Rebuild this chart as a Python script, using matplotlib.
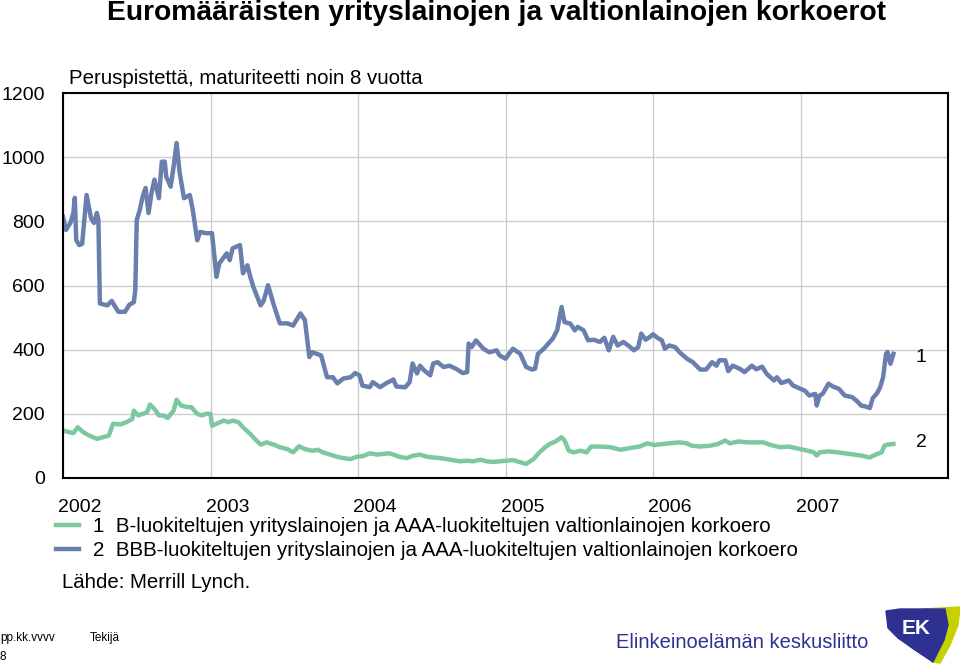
import numpy as np
import matplotlib
matplotlib.use("Agg")
import matplotlib.pyplot as plt
from matplotlib.transforms import ScaledTranslation
from matplotlib.patches import Polygon

plt.rcParams['font.family'] = ['Liberation Sans', 'DejaVu Sans']

# Sarja 2 (sininen), peruspisteitä
blue_t = [2002.00, 2002.02, 2002.05, 2002.07, 2002.08, 2002.09, 2002.11, 2002.13, 2002.14, 2002.16,
          2002.19, 2002.21, 2002.23, 2002.24, 2002.25, 2002.30, 2002.33, 2002.375, 2002.42, 2002.45,
          2002.48, 2002.49, 2002.50, 2002.52, 2002.54, 2002.56, 2002.58, 2002.60, 2002.62, 2002.65,
          2002.67, 2002.69, 2002.70, 2002.73, 2002.75, 2002.77, 2002.79, 2002.82, 2002.86, 2002.88,
          2002.91, 2002.93, 2002.97, 2003.01, 2003.02, 2003.04, 2003.06, 2003.11, 2003.13, 2003.15,
          2003.20, 2003.22, 2003.25, 2003.27, 2003.29, 2003.34, 2003.36, 2003.39, 2003.43, 2003.47,
          2003.52, 2003.56, 2003.61, 2003.64, 2003.67, 2003.69, 2003.75, 2003.79, 2003.83, 2003.86,
          2003.90, 2003.95, 2003.98, 2004.01, 2004.03, 2004.08, 2004.10, 2004.15, 2004.19, 2004.24,
          2004.26, 2004.32, 2004.35, 2004.37, 2004.40, 2004.42, 2004.45, 2004.49, 2004.51, 2004.54,
          2004.58, 2004.62, 2004.67, 2004.71, 2004.74, 2004.75, 2004.77, 2004.80, 2004.85, 2004.89,
          2004.94, 2004.96, 2005.00, 2005.05, 2005.10, 2005.14, 2005.18, 2005.20, 2005.22, 2005.26,
          2005.29, 2005.32, 2005.35, 2005.38, 2005.40, 2005.44, 2005.47, 2005.49, 2005.53, 2005.56,
          2005.60, 2005.64, 2005.67, 2005.70, 2005.73, 2005.76, 2005.80, 2005.84, 2005.87, 2005.90,
          2005.92, 2005.95, 2005.98, 2006.00, 2006.03, 2006.06, 2006.08, 2006.11, 2006.15, 2006.18,
          2006.23, 2006.27, 2006.32, 2006.36, 2006.40, 2006.43, 2006.45, 2006.49, 2006.51, 2006.54,
          2006.59, 2006.62, 2006.67, 2006.70, 2006.74, 2006.77, 2006.82, 2006.84, 2006.87, 2006.92,
          2006.95, 2007.00, 2007.03, 2007.06, 2007.10, 2007.11, 2007.13, 2007.15, 2007.19, 2007.22,
          2007.26, 2007.30, 2007.35, 2007.38, 2007.41, 2007.44, 2007.47, 2007.49, 2007.52, 2007.54,
          2007.56, 2007.58, 2007.59, 2007.61, 2007.63]
blue_v = [814, 773, 795, 826, 873, 741, 726, 730, 782, 882,
          810, 795, 826, 805, 544, 538, 552, 518, 518, 540,
          548, 585, 804, 835, 877, 904, 826, 888, 930, 872,
          986, 986, 939, 908, 971, 1044, 955, 872, 882, 835,
          741, 767, 763, 763, 720, 627, 669, 700, 679, 716,
          726, 638, 663, 627, 596, 538, 552, 601, 538, 482,
          482, 475, 513, 492, 377, 392, 382, 314, 314, 295,
          310, 314, 327, 320, 288, 283, 299, 283, 295, 307,
          285, 283, 299, 357, 326, 350, 335, 320, 357, 361,
          346, 350, 339, 327, 330, 419, 408, 429, 403, 392,
          398, 382, 372, 403, 387, 346, 338, 340, 387, 403,
          419, 434, 460, 533, 486, 481, 460, 471, 460, 429,
          431, 424, 437, 398, 440, 413, 424, 410, 398, 408,
          450, 431, 440, 448, 437, 429, 403, 413, 408, 392,
          372, 361, 338, 338, 361, 350, 367, 367, 333, 350,
          340, 330, 350, 339, 347, 325, 304, 314, 296, 304,
          288, 278, 272, 257, 262, 226, 257, 262, 294, 285,
          278, 257, 252, 241, 226, 223, 218, 249, 265, 283,
          314, 387, 393, 356, 387]

# Sarja 1 (vihreä), peruspisteitä
green_t = [2002.00, 2002.05, 2002.07, 2002.10, 2002.14, 2002.18, 2002.23, 2002.27, 2002.31, 2002.34,
           2002.39, 2002.43, 2002.47, 2002.48, 2002.51, 2002.54, 2002.57, 2002.59, 2002.62, 2002.65,
           2002.68, 2002.71, 2002.75, 2002.77, 2002.80, 2002.84, 2002.87, 2002.91, 2002.94, 2002.97,
           2003.00, 2003.01, 2003.04, 2003.09, 2003.12, 2003.15, 2003.19, 2003.22, 2003.27, 2003.30,
           2003.34, 2003.38, 2003.43, 2003.47, 2003.52, 2003.56, 2003.60, 2003.64, 2003.69, 2003.73,
           2003.76, 2003.81, 2003.86, 2003.90, 2003.95, 2003.99, 2004.04, 2004.08, 2004.13, 2004.17,
           2004.21, 2004.24, 2004.28, 2004.33, 2004.37, 2004.42, 2004.47, 2004.51, 2004.56, 2004.60,
           2004.65, 2004.69, 2004.74, 2004.78, 2004.83, 2004.87, 2004.92, 2004.96, 2005.01, 2005.05,
           2005.10, 2005.14, 2005.19, 2005.23, 2005.27, 2005.30, 2005.34, 2005.38, 2005.40, 2005.43,
           2005.46, 2005.51, 2005.55, 2005.58, 2005.64, 2005.71, 2005.78, 2005.84, 2005.91, 2005.96,
           2006.01, 2006.07, 2006.13, 2006.18, 2006.23, 2006.26, 2006.32, 2006.39, 2006.44, 2006.49,
           2006.52, 2006.58, 2006.64, 2006.69, 2006.75, 2006.79, 2006.86, 2006.92, 2006.97, 2007.03,
           2007.09, 2007.11, 2007.13, 2007.19, 2007.25, 2007.30, 2007.36, 2007.41, 2007.47, 2007.51,
           2007.55, 2007.57, 2007.59, 2007.63]
green_v = [148, 142, 140, 158, 142, 132, 122, 127, 132, 169,
           167, 174, 184, 210, 195, 200, 205, 229, 215, 195,
           195, 187, 210, 244, 226, 221, 221, 200, 195, 200,
           200, 163, 169, 179, 174, 179, 174, 158, 137, 122,
           104, 111, 104, 96, 90, 80, 99, 90, 85, 88,
           80, 73, 66, 62, 59, 66, 69, 77, 73, 75,
           77, 73, 66, 62, 69, 73, 66, 64, 62, 59,
           55, 52, 54, 52, 57, 52, 50, 52, 54, 56,
           49, 44, 59, 80, 96, 106, 114, 127, 117, 85,
           80, 85, 80, 98, 98, 96, 88, 93, 98, 108,
           103, 106, 109, 111, 108, 101, 98, 101, 106, 117,
           108, 114, 111, 111, 111, 104, 96, 98, 93, 87,
           80, 70, 80, 83, 80, 77, 73, 70, 64, 73,
           80, 101, 104, 106]

years = [2002, 2003, 2004, 2005, 2006, 2007]
yticks = [0, 200, 400, 600, 800, 1000, 1200]
labels = ['1  B-luokiteltujen yrityslainojen ja AAA-luokiteltujen valtionlainojen korkoero',
          '2  BBB-luokiteltujen yrityslainojen ja AAA-luokiteltujen valtionlainojen korkoero']

green_c = '#7CC8A0'
blue_c = '#6A7FAE'

W, H = 960, 665
fig = plt.figure(figsize=(W / 100, H / 100), dpi=100)
ax = fig.add_axes([63 / W, 1 - 478 / H, (948 - 63) / W, (478 - 93) / H])

l1, = ax.plot(green_t, green_v, color=green_c, lw=3.2, solid_joinstyle='round')
l2, = ax.plot(blue_t, blue_v, color=blue_c, lw=3.2, solid_joinstyle='round')

ax.set_xlim(2002, 2008)
ax.set_ylim(0, 1200)
ax.set_xticks(years)
ax.set_xticklabels([str(y) for y in years], fontsize=14)
ax.set_yticks(yticks)
ax.set_yticklabels([str(v) for v in yticks], fontsize=14)
ax.tick_params(length=0)
ax.tick_params(axis='y', pad=13)
ax.tick_params(axis='x', pad=15)
for lab in ax.get_xticklabels():
    lab.set_horizontalalignment('left')
    lab.set_transform(lab.get_transform() + ScaledTranslation(-0.05, 0, fig.dpi_scale_trans))
ax.grid(True, color='#CCCCCC', lw=1.0)
ax.set_axisbelow(True)
for s in ax.spines.values():
    s.set_linewidth(1.5)
    s.set_color('black')

ax.text(2007.78, 375, '1', fontsize=14, va='center')
ax.text(2007.78, 112, '2', fontsize=14, va='center')

fig.text(496 / W, 1 - 13 / H, 'Euromääräisten yrityslainojen ja valtionlainojen korkoerot',
         ha='center', va='center', fontsize=20.3, fontweight='bold')
fig.text(69 / W, 1 - 78 / H, 'Peruspistettä, maturiteetti noin 8 vuotta', ha='left', va='center', fontsize=14.7)

fig.legend([l1, l2], labels, loc='upper left', bbox_to_anchor=(56 / W, 1 - 517 / H),
           frameon=False, fontsize=14.8, handlelength=1.1, handletextpad=0.72, labelspacing=0.25,
           borderpad=0, borderaxespad=0)
fig.text(62 / W, 1 - 582 / H, 'Lähde: Merrill Lynch.', ha='left', va='center', fontsize=14.7)

fig.text(0, 1 - 638 / H, 'pp.kk.vvvv', ha='left', va='center', fontsize=8.5)
fig.text(90 / W, 1 - 638 / H, 'Tekijä', ha='left', va='center', fontsize=8.5)
fig.text(0, 1 - 657 / H, '8', ha='left', va='center', fontsize=8.5)
fig.text(616 / W, 1 - 643 / H, 'Elinkeinoelämän keskusliitto', ha='left', va='center',
         fontsize=14.5, color='#2E3192')

# EK-logo
def px(pts):
    return [(x / W, 1 - y / H) for x, y in pts]

fig.patches.append(Polygon(px([(922, 609), (960, 607), (958, 625), (950, 645), (940, 663), (932, 662)]),
                           closed=True, color='#C5D200', transform=fig.transFigure, figure=fig))
fig.patches.append(Polygon(px([(886, 611), (900, 609), (945, 609), (948, 625), (944, 640), (933, 662),
                               (915, 650), (898, 638), (888, 628)]),
                           closed=True, color='#2E3192', transform=fig.transFigure, figure=fig))
fig.text(916 / W, 1 - 628 / H, 'EK', ha='center', va='center', fontsize=15, fontweight='bold', color='white')

fig.savefig('out.png', dpi=100)
